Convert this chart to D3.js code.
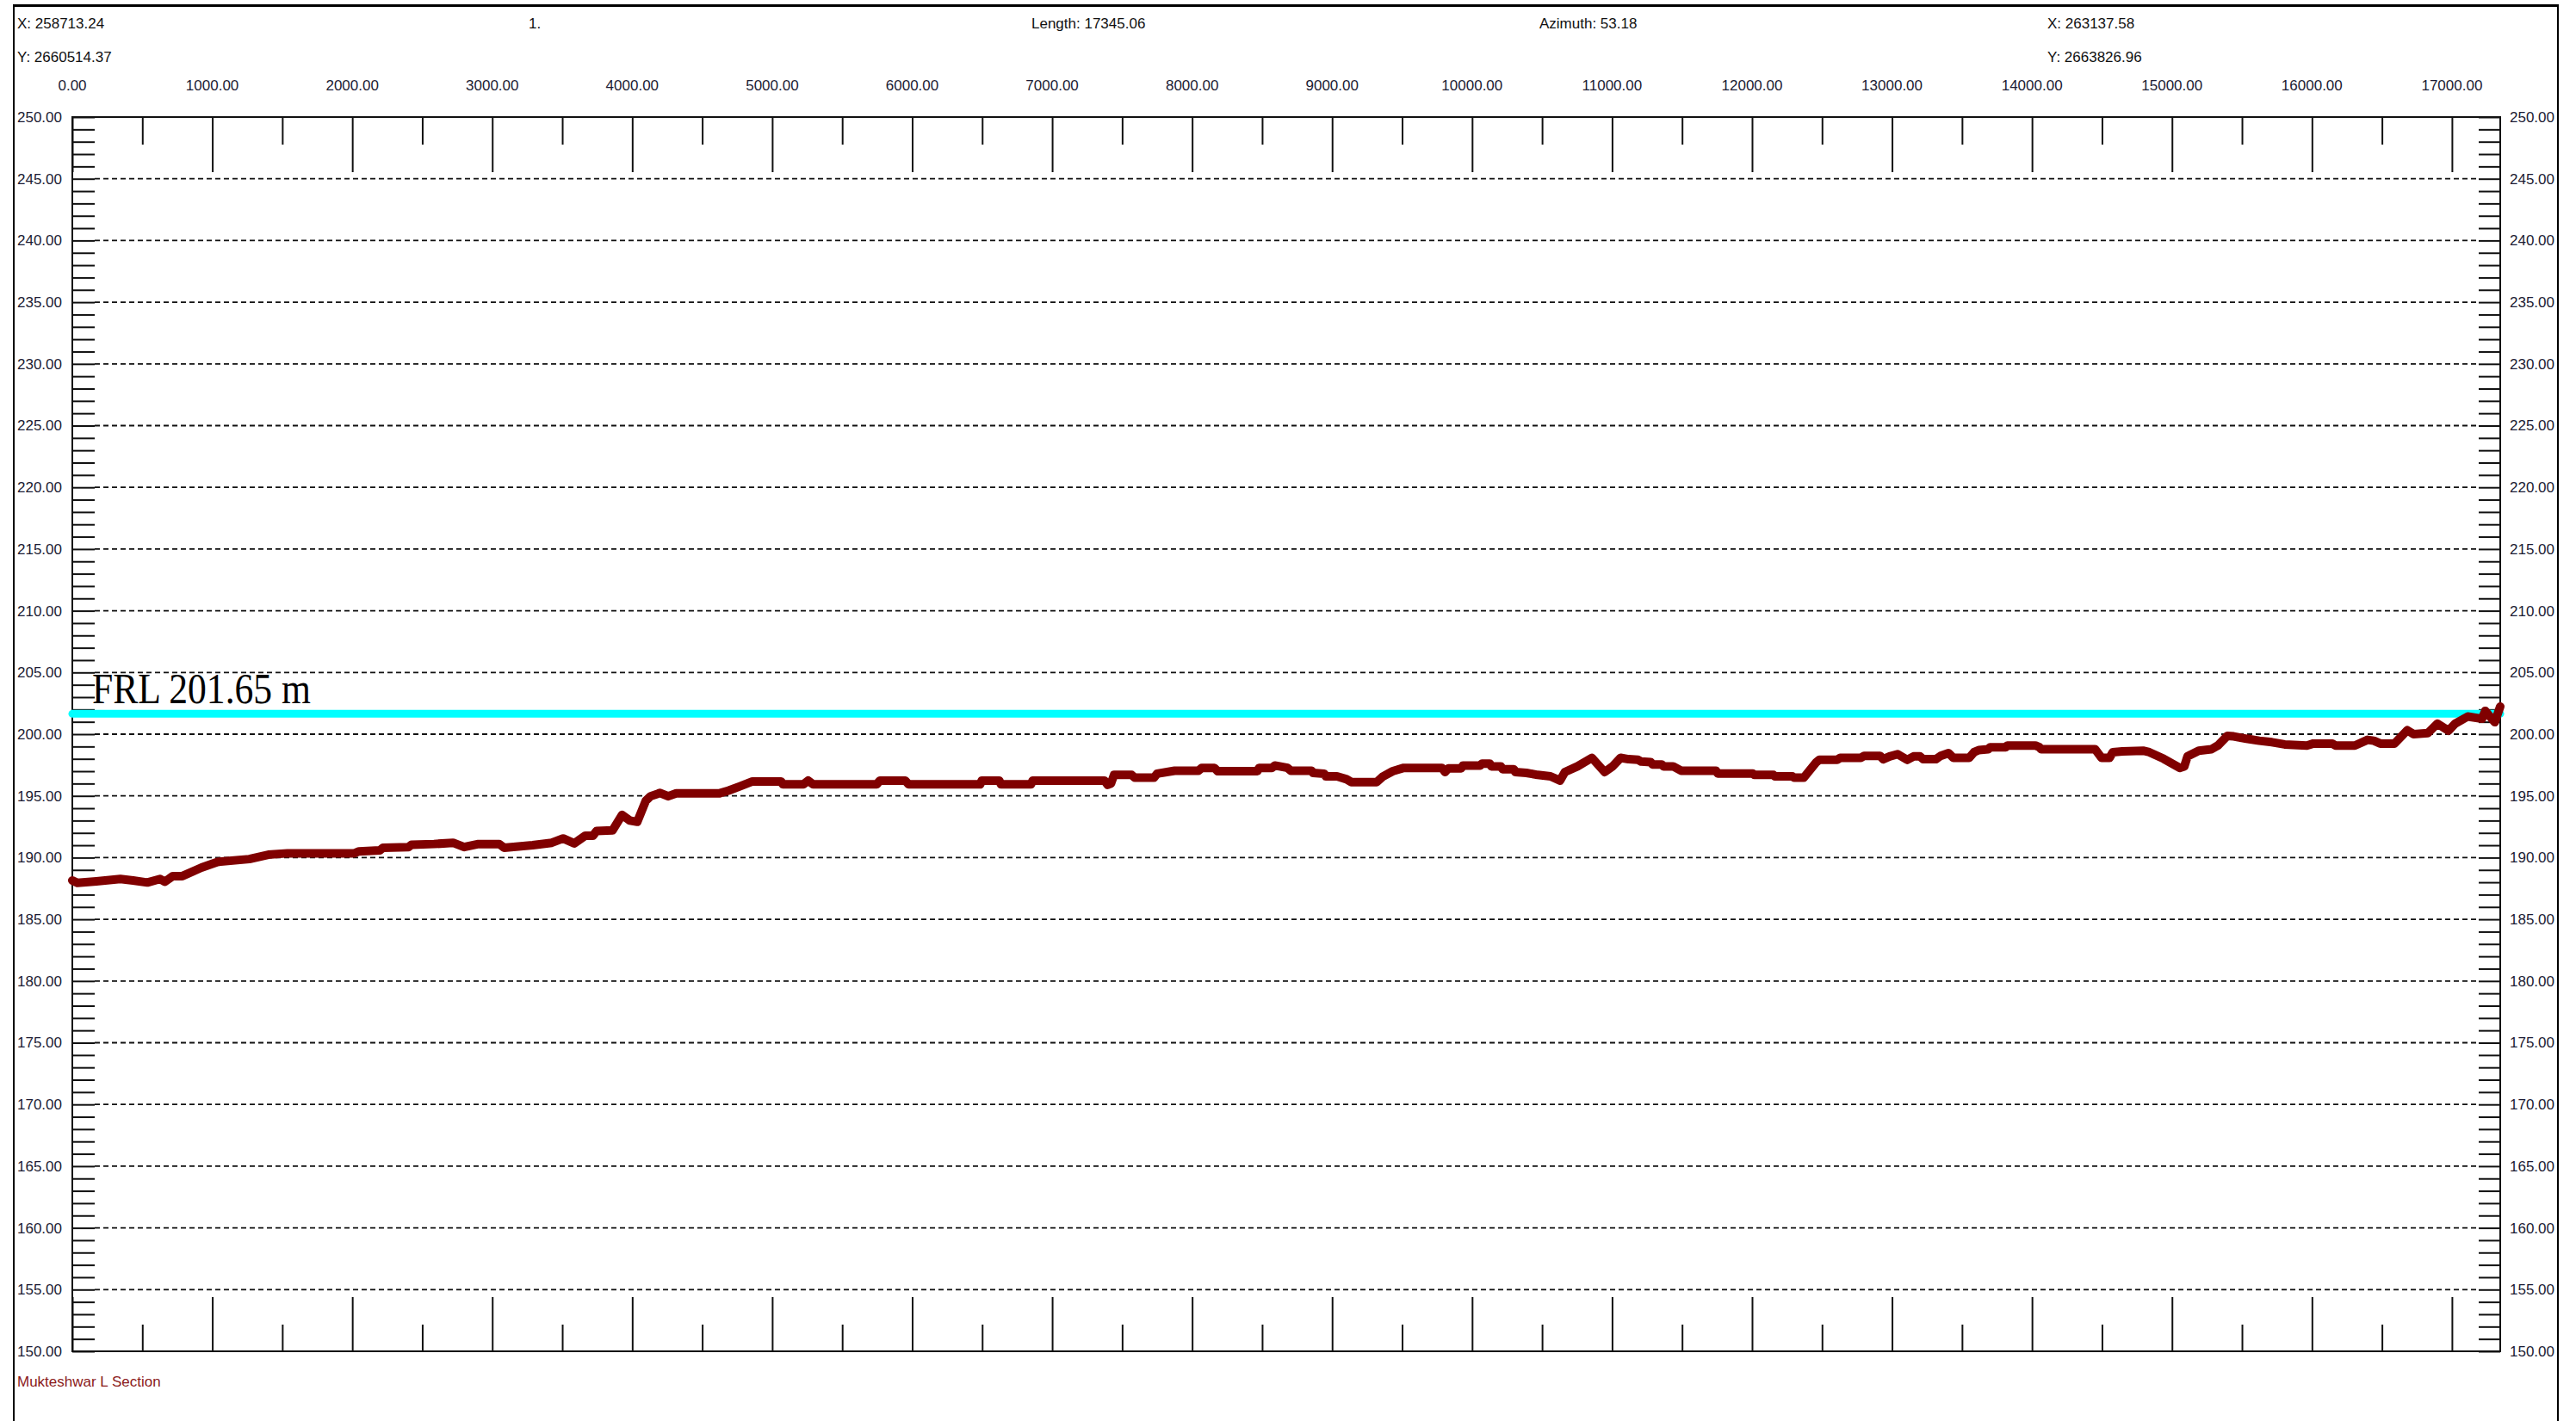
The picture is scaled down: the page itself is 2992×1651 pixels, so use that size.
<!DOCTYPE html>
<html>
<head>
<meta charset="utf-8">
<script src="https://cdn.jsdelivr.net/npm/d3@7/dist/d3.min.js"></script>
<style>
  html, body { margin: 0; padding: 0; background: #ffffff; }
  svg { display: block; font-family: "Liberation Sans", Arial, sans-serif; }
</style>
</head>
<body>
<svg id="chart" width="2992" height="1651"></svg>
<script>
// Chainage along the section (m) and ground level (m)
const chainage = [
  0, 36, 172, 343, 434, 536, 627, 661, 718, 786, 923, 1037, 1264, 1400, 1537, 2015, 2048, 2196, 2220, 2401,
  2423, 2583, 2720, 2799, 2901, 3050, 3084, 3288, 3425, 3506, 3586, 3665, 3720, 3745, 3859, 3927, 3983, 4036, 4097, 4131,
  4199, 4257, 4314, 4620, 4689, 4769, 4859, 5064, 5075, 5223, 5257, 5292, 5747, 5769, 5951, 5974, 6486, 6497, 6622, 6634,
  6849, 6861, 7374, 7396, 7420, 7442, 7568, 7590, 7727, 7750, 7875, 8045, 8068, 8159, 8182, 8466, 8478, 8569, 8591, 8682,
  8705, 8853, 8864, 8944, 8955, 9035, 9103, 9137, 9319, 9364, 9433, 9512, 9785, 9807, 9830, 9922, 9934, 10058, 10070, 10126,
  10138, 10206, 10218, 10298, 10309, 10388, 10468, 10560, 10628, 10663, 10753, 10856, 10947, 11004, 11061, 11118, 11186, 11208, 11276, 11288,
  11356, 11368, 11436, 11493, 11743, 11755, 12005, 12016, 12153, 12164, 12289, 12301, 12369, 12460, 12481, 12608, 12630, 12777, 12800, 12915,
  12937, 12983, 13040, 13108, 13154, 13199, 13222, 13313, 13347, 13404, 13438, 13551, 13586, 13620, 13688, 13700, 13813, 13824, 14024, 14053,
  14065, 14451, 14497, 14554, 14577, 14645, 14793, 14838, 14940, 15055, 15088, 15111, 15191, 15282, 15328, 15395, 15441, 15532, 15623, 15714,
  15805, 15964, 16010, 16146, 16169, 16306, 16397, 16442, 16488, 16590, 16681, 16726, 16828, 16896, 16976, 17022, 17113, 17215, 17238, 17306,
  17345
];
const groundLevel = [
  188.15, 187.95, 188.08, 188.27, 188.15, 187.98, 188.27, 188.04, 188.5, 188.5, 189.19, 189.65, 189.88, 190.23, 190.35, 190.35, 190.5, 190.58, 190.8, 190.85,
  191.04, 191.1, 191.2, 190.85, 191.1, 191.1, 190.8, 191.0, 191.2, 191.55, 191.15, 191.78, 191.78, 192.15, 192.2, 193.46, 193.0, 192.9, 194.6, 194.97,
  195.24, 194.97, 195.2, 195.2, 195.43, 195.77, 196.17, 196.17, 195.94, 195.94, 196.24, 195.94, 195.94, 196.24, 196.24, 195.94, 195.94, 196.24, 196.24, 195.94,
  195.94, 196.24, 196.24, 195.89, 196.0, 196.7, 196.7, 196.47, 196.47, 196.8, 197.04, 197.04, 197.27, 197.27, 197.0, 197.0, 197.27, 197.27, 197.46, 197.27,
  197.04, 197.04, 196.86, 196.8, 196.58, 196.58, 196.35, 196.12, 196.12, 196.58, 197.0, 197.27, 197.27, 196.93, 197.23, 197.23, 197.46, 197.46, 197.62, 197.62,
  197.39, 197.39, 197.16, 197.16, 196.93, 196.86, 196.7, 196.58, 196.24, 196.93, 197.39, 198.08, 196.93, 197.39, 198.08, 197.97, 197.92, 197.78, 197.74, 197.55,
  197.55, 197.39, 197.39, 197.04, 197.04, 196.81, 196.81, 196.7, 196.7, 196.58, 196.58, 196.47, 196.47, 197.74, 197.92, 197.92, 198.08, 198.08, 198.24, 198.24,
  197.97, 198.2, 198.38, 197.92, 198.2, 198.2, 197.97, 197.97, 198.24, 198.47, 198.08, 198.08, 198.54, 198.71, 198.78, 198.94, 198.94, 199.08, 199.08, 198.94,
  198.78, 198.78, 198.08, 198.08, 198.54, 198.61, 198.66, 198.54, 198.01, 197.27, 197.39, 198.2, 198.66, 198.78, 199.08, 199.86, 199.82, 199.63, 199.47, 199.35,
  199.17, 199.08, 199.24, 199.24, 199.08, 199.08, 199.54, 199.47, 199.24, 199.24, 200.32, 200.0, 200.09, 200.85, 200.28, 200.85, 201.43, 201.25, 201.89, 200.97,
  202.24
];

// Full reservoir level
const frlValue = 201.65;
const frlLabel = "FRL 201.65 m";

// Section extent and axis ranges
const sectionLength = 17345.06;
const elevMin = 150, elevMax = 250;
const xMajorTicks = d3.range(0, 17001, 1000);
const xMinorTicks = d3.range(500, 17001, 1000);
const yMinorTicks = d3.range(150, 251, 1);
const yLabelTicks = d3.range(150, 251, 5);
const yGridTicks = d3.range(155, 250, 5);

// Header readouts
const startX = "X: 258713.24", startY = "Y: 2660514.37";
const sectionNo = "1.";
const lengthText = "Length: 17345.06";
const azimuthText = "Azimuth: 53.18";
const endX = "X: 263137.58", endY = "Y: 2663826.96";
const sectionName = "Mukteshwar L Section";

const svg = d3.select("#chart");
const plotLeft = 84, plotRight = 2904, plotTop = 136, plotBottom = 1570;

const x = d3.scaleLinear().domain([0, sectionLength]).range([plotLeft, plotRight]);
const y = d3.scaleLinear().domain([elevMin, elevMax]).range([plotBottom, plotTop]);
const fmt = d3.format(".2f");
const labelColor = "#1c1c34";

// Window border
svg.append("line").attr("x1", 15).attr("x2", 2972).attr("y1", 6.5).attr("y2", 6.5)
  .attr("stroke", "#000").attr("stroke-width", 3);
svg.append("line").attr("x1", 16).attr("x2", 16).attr("y1", 5).attr("y2", 1651)
  .attr("stroke", "#000").attr("stroke-width", 2);
svg.append("line").attr("x1", 2971).attr("x2", 2971).attr("y1", 5).attr("y2", 1651)
  .attr("stroke", "#000").attr("stroke-width", 2);

// Header text
const header = svg.append("g").attr("font-size", 17).attr("fill", "#111");
header.append("text").attr("x", 20).attr("y", 33).text(startX);
header.append("text").attr("x", 20).attr("y", 72).text(startY);
header.append("text").attr("x", 614).attr("y", 33).text(sectionNo);
header.append("text").attr("x", 1198).attr("y", 33).text(lengthText);
header.append("text").attr("x", 1788).attr("y", 33).text(azimuthText);
header.append("text").attr("x", 2378).attr("y", 33).text(endX);
header.append("text").attr("x", 2378).attr("y", 72).text(endY);

// Dashed grid lines every 5 m
svg.append("g").selectAll("line").data(yGridTicks).join("line")
  .attr("x1", plotLeft + 26).attr("x2", plotRight - 25)
  .attr("y1", d => y(d)).attr("y2", d => y(d))
  .attr("stroke", "#111").attr("stroke-width", 1.8)
  .attr("stroke-dasharray", "6,4");

// Inward ticks from the scales' axes
function styleTicks(g) {
  g.select(".domain").remove();
  g.selectAll(".tick text").remove();
  g.selectAll(".tick line").attr("stroke", "#111").attr("stroke-width", 2);
}
svg.append("g").attr("transform", `translate(0,${plotTop})`)
  .call(d3.axisTop(x).tickValues(xMajorTicks).tickSize(-64)).call(styleTicks);
svg.append("g").attr("transform", `translate(0,${plotTop})`)
  .call(d3.axisTop(x).tickValues(xMinorTicks).tickSize(-32)).call(styleTicks);
svg.append("g").attr("transform", `translate(0,${plotBottom})`)
  .call(d3.axisBottom(x).tickValues(xMajorTicks).tickSize(-63)).call(styleTicks);
svg.append("g").attr("transform", `translate(0,${plotBottom})`)
  .call(d3.axisBottom(x).tickValues(xMinorTicks).tickSize(-31)).call(styleTicks);
svg.append("g").attr("transform", `translate(${plotLeft},0)`)
  .call(d3.axisLeft(y).tickValues(yMinorTicks).tickSize(-26)).call(styleTicks);
svg.append("g").attr("transform", `translate(${plotRight},0)`)
  .call(d3.axisRight(y).tickValues(yMinorTicks).tickSize(-25)).call(styleTicks);

// Plot frame
svg.append("rect").attr("x", plotLeft).attr("y", plotTop)
  .attr("width", plotRight - plotLeft).attr("height", plotBottom - plotTop)
  .attr("fill", "none").attr("stroke", "#111").attr("stroke-width", 2);

// Chainage labels above the frame
svg.append("g").attr("font-size", 17).attr("fill", labelColor).attr("text-anchor", "middle")
  .selectAll("text").data(xMajorTicks).join("text")
  .attr("x", d => x(d)).attr("y", 105).text(d => fmt(d));

// Elevation labels on both sides
svg.append("g").attr("font-size", 17).attr("fill", labelColor).attr("text-anchor", "end")
  .selectAll("text").data(yLabelTicks).join("text")
  .attr("x", 72).attr("y", d => y(d)).attr("dy", "0.35em").text(d => fmt(d));
svg.append("g").attr("font-size", 17).attr("fill", labelColor).attr("text-anchor", "start")
  .selectAll("text").data(yLabelTicks).join("text")
  .attr("x", 2915).attr("y", d => y(d)).attr("dy", "0.35em").text(d => fmt(d));

// FRL line and its label
svg.append("line")
  .attr("x1", x(0)).attr("x2", x(sectionLength))
  .attr("y1", y(frlValue)).attr("y2", y(frlValue))
  .attr("stroke", "#00ffff").attr("stroke-width", 9).attr("stroke-linecap", "round");
svg.append("text")
  .attr("x", 107).attr("y", 817)
  .style("font-family", "'Liberation Serif', 'Times New Roman', serif")
  .attr("font-size", 50).attr("fill", "#000")
  .attr("textLength", 254).attr("lengthAdjust", "spacingAndGlyphs")
  .text(frlLabel);

// Ground profile
const profile = chainage.map((d, i) => [d, groundLevel[i]]);
svg.append("path")
  .datum(profile)
  .attr("fill", "none")
  .attr("stroke", "#800000")
  .attr("stroke-width", 10)
  .attr("stroke-linejoin", "round")
  .attr("stroke-linecap", "round")
  .attr("d", d3.line().x(d => x(d[0])).y(d => y(d[1])));

// Section name
svg.append("text").attr("x", 20).attr("y", 1611)
  .attr("font-size", 17).attr("fill", "#8b1a1a")
  .text(sectionName);
</script>
</body>
</html>
